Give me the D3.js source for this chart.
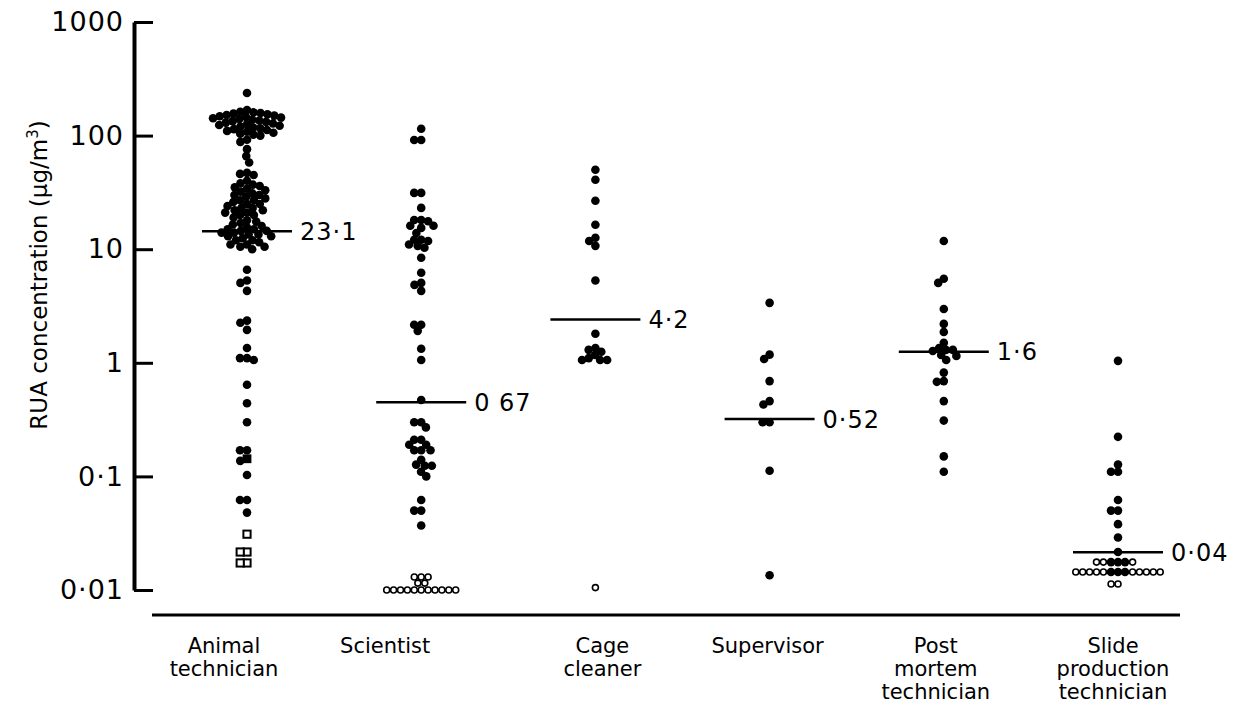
<!DOCTYPE html>
<html><head><meta charset="utf-8">
<script src="https://cdn.jsdelivr.net/npm/d3@7"></script>
<style>
body{margin:0;background:#fff}
svg{display:block}
text{font-family:"DejaVu Sans",sans-serif;fill:#000}
</style>
</head><body>
<svg id="chart" width="1233" height="707"></svg>
<script>
// ---------------- data ----------------
const categories = ["Animal technician","Scientist","Cage cleaner","Supervisor","Post mortem technician","Slide production technician"];
const categoryLines = [["Animal","technician"],["Scientist"],["Cage","cleaner"],["Supervisor"],["Post","mortem","technician"],["Slide","production","technician"]];

const yTicks = [0.01,0.1,1,10,100,1000];
const yTickLabels = ["0·01","0·1","1","10","100","1000"];

// filled circles (measured RUA, µg/m3)
const animalTechnician = [237,
  168,162,160,158,156,154,152,150,148,146,144,142,140,138,136,134,132,130,128,126,124,122,120,118,116,114,112,110,108,106,104,102,100,
  92,88,76,66,58,47,46,45,
  40,38,37,36,35,34,33,32,31,30,30,29,28,27,27,26,25,25,24,23,23,22,22,21,21,20,20,19,
  18,17.5,17,16.5,16,15.5,15,15,14.5,14.5,14,14,13.5,13.5,13,13,12.5,12,12,11.5,11,11,10.5,10.5,10,
  6.6,5.3,5.05,4.3,2.35,2.25,1.95,1.35,1.1,1.1,1.06,0.64,0.44,0.30,0.17,0.17,0.137,0.103,0.062,0.062,0.048];
const scientist = [115,91.5,91.5,31.3,31.3,23.1,18.1,18.1,17.6,16.1,16.1,15.4,13.9,12.1,12.1,11.8,11.0,10.7,10.3,
  8.4,6.2,5.05,4.85,4.3,2.16,2.16,1.91,1.33,1.06,
  0.47,0.30,0.30,0.27,0.21,0.21,0.19,0.19,0.17,0.17,0.17,0.14,0.127,0.124,0.124,0.11,0.10,0.062,0.05,0.05,0.037];
const cageCleaner = [50,40.9,26.7,16.4,12.6,11.8,10.7,5.3,1.8,1.35,1.3,1.25,1.17,1.1,1.06,1.06,1.06];
const supervisor = [3.37,1.18,1.08,0.69,0.46,0.43,0.30,0.30,0.112,0.0135];
const postMortem = [11.8,5.5,5.05,2.98,2.2,1.87,1.5,1.35,1.3,1.3,1.27,1.17,1.15,1.06,0.82,0.69,0.68,0.46,0.31,0.15,0.11];
const slideProduction = [1.04,0.223,0.127,0.11,0.11,0.062,0.05,0.05,0.038,0.029,0.0216,0.0176,0.0176,0.0176,0.0144,0.0144,0.0144];

// open circles (below detection)
const scientistOpen = [0.013,0.013,0.013,0.0115,0.0115,0.01,0.01,0.01,0.01,0.01,0.01,0.01,0.01,0.01,0.01,0.01];
const cageCleanerOpen = [0.0105];
const slideProductionOpen = [0.0176,0.0176,0.0176,0.0144,0.0144,0.0144,0.0144,0.0144,0.0144,0.0144,0.0144,0.0144,0.0144,0.0113,0.0113];

// squares (animal technician)
const animalFilledSquare = [0.143];
const animalOpenSquare = [0.031,0.0216,0.0216,0.0173,0.0173];

// summary lines and their labels
const summaryLevel = [14.4,0.45,2.4,0.32,1.25,0.0215];
const summaryLabels = ["23·1","0 67","4·2","0·52","1·6","0·04"];

const filledByCat = [animalTechnician,scientist,cageCleaner,supervisor,postMortem,slideProduction];
const openByCat = [[],scientistOpen,cageCleanerOpen,[],[],slideProductionOpen];
const filledSqByCat = [animalFilledSquare,[],[],[],[],[]];
const openSqByCat = [animalOpenSquare,[],[],[],[],[]];

// ---------------- layout ----------------
const svg = d3.select("#chart");
const x = d3.scalePoint().domain(categories).range([247,1118]);
const y = d3.scaleLog().domain([0.01,1000]).range([590,22]);
const axisX = 134;
const labelShift = [-23,-36,7,-2,-8,-5];

const R = {filled:4.3, open:3.0, fsq:4.4, osq:3.6};

// y axis
const yAxis = d3.axisLeft(y).tickValues(yTicks).tickFormat((d,i)=>yTickLabels[i])
  .tickSize(-19).tickSizeOuter(0).tickPadding(10);
const gy = svg.append("g").attr("transform",`translate(${axisX},0)`).call(yAxis);
gy.select(".domain").attr("stroke","#000").attr("stroke-width",4);
gy.selectAll(".tick line").attr("stroke","#000").attr("stroke-width",3);
gy.selectAll(".tick text").attr("font-family","DejaVu Sans").attr("font-size",27)
  .attr("letter-spacing",1).attr("fill","#000");

// y title
const t = svg.append("text").attr("transform","translate(47,275) rotate(-90)")
  .attr("text-anchor","middle").attr("font-size",23);
t.append("tspan").text("RUA concentration (μg/m");
t.append("tspan").text("3").attr("font-size",15).attr("dy",-9);
t.append("tspan").text(")").attr("dy",9);

// baseline
svg.append("line").attr("x1",x(categories[0])-95).attr("x2",x(categories[5])+62)
  .attr("y1",615).attr("y2",615).attr("stroke","#000").attr("stroke-width",3);

// category labels
categories.forEach((c,i)=>{
  const tx = svg.append("text").attr("text-anchor","middle").attr("font-size",21)
    .attr("x",x(c)+labelShift[i]).attr("y",653);
  categoryLines[i].forEach((ln,j)=>{
    tx.append("tspan").attr("x",x(c)+labelShift[i]).attr("dy",j===0?0:23).text(ln);
  });
});

// beeswarm placement
function swarm(items){
  const placed=[];
  items.forEach(it=>{
    const iv=[];
    placed.forEach(p=>{
      const d=p.r+it.r-(p.type==="open"||it.type==="open"?0.3:1.6);
      const dy=Math.abs(p.y-it.y);
      if(dy<d){const dx=Math.sqrt(d*d-dy*dy);iv.push([p.dx-dx,p.dx+dx]);}
    });
    const cands=[0];
    iv.forEach(([a,b])=>{cands.push(a,b);});
    cands.sort((a,b)=>Math.abs(a)-Math.abs(b)||a-b);
    let best=0;
    for(const c of cands){
      if(!iv.some(([a,b])=>c>a+1e-6&&c<b-1e-6)){best=c;break;}
    }
    it.dx=best;placed.push(it);
  });
  return placed;
}

categories.forEach((c,i)=>{
  const items=[];
  filledSqByCat[i].forEach(v=>items.push({v,type:"fsq",r:R.fsq}));
  filledByCat[i].forEach(v=>items.push({v,type:"filled",r:R.filled}));
  openSqByCat[i].forEach(v=>items.push({v,type:"osq",r:R.osq+0.6}));
  openByCat[i].forEach(v=>items.push({v,type:"open",r:R.open+0.6}));
  items.forEach(it=>it.y=y(it.v));
  const sorted=items.map((d,k)=>({...d,k})).sort((a,b)=>b.v-a.v||a.k-b.k);
  const pts=swarm(sorted);
  const g=svg.append("g").attr("transform",`translate(${x(c)},0)`);
  g.selectAll("circle.f").data(pts.filter(p=>p.type==="filled")).join("circle")
    .attr("cx",p=>p.dx).attr("cy",p=>p.y).attr("r",R.filled).attr("fill","#000");
  g.selectAll("circle.o").data(pts.filter(p=>p.type==="open")).join("circle")
    .attr("class","o").attr("cx",p=>p.dx).attr("cy",p=>p.y).attr("r",R.open)
    .attr("fill","#fff").attr("stroke","#000").attr("stroke-width",1.6);
  g.selectAll("rect.fs").data(pts.filter(p=>p.type==="fsq")).join("rect")
    .attr("x",p=>p.dx-R.fsq).attr("y",p=>p.y-R.fsq).attr("width",2*R.fsq).attr("height",2*R.fsq).attr("fill","#000");
  g.selectAll("rect.os").data(pts.filter(p=>p.type==="osq")).join("rect")
    .attr("x",p=>p.dx-R.osq).attr("y",p=>p.y-R.osq).attr("width",2*R.osq).attr("height",2*R.osq)
    .attr("fill","#fff").attr("stroke","#000").attr("stroke-width",2);
  // summary line
  const ly=y(summaryLevel[i]);
  svg.append("line").attr("x1",x(c)-45).attr("x2",x(c)+45).attr("y1",ly).attr("y2",ly)
    .attr("stroke","#000").attr("stroke-width",2.5);
  svg.append("text").attr("x",x(c)+53).attr("y",ly+8.5).attr("font-size",24)
    .attr("letter-spacing",1).text(summaryLabels[i]);
});
</script>
</body></html>
